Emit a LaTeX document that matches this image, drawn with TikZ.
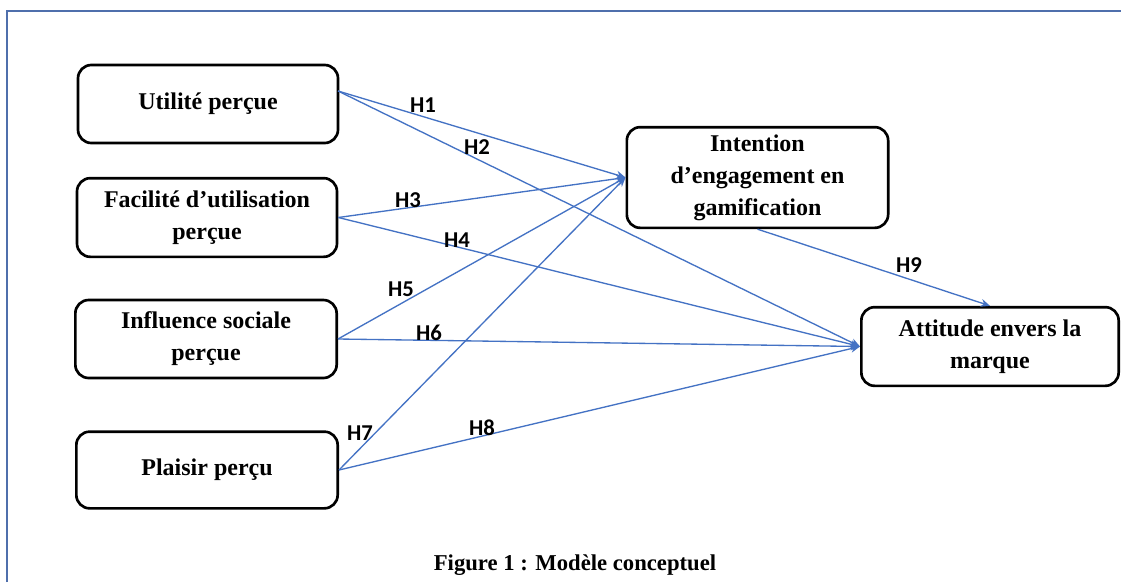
\documentclass[tikz,border=0pt]{standalone}
\usepackage{fontspec}
\setmainfont{Liberation Serif}
\newfontfamily\hfont{Carlito}
\usetikzlibrary{arrows.meta}
\definecolor{arrowblue}{RGB}{68,114,196}
\definecolor{frameblue}{RGB}{79,111,172}
\begin{document}
\begin{tikzpicture}[x=0.75pt,y=-0.75pt,
  box/.style={draw=black,line width=2pt,rounded corners=10pt,align=center,inner sep=0pt,
    font=\fontsize{18pt}{24pt}\selectfont\bfseries},
  link/.style={draw=arrowblue,line width=1pt,-{Stealth[length=7pt,width=6pt]}},
  hlab/.style={font=\hfont\fontsize{17pt}{19pt}\selectfont\bfseries,inner sep=0pt}]
\useasboundingbox (0,0) rectangle (1121,582);
\fill[white] (0,0) rectangle (1121,582);
% frame
\draw[frameblue,line width=1.4pt] (7,582) -- (7,11) -- (1121,11);
% nodes
\node[box,minimum width=195pt,minimum height=58.5pt] (u) at (208,104) {Utilité perçue};
\node[box,minimum width=195pt,minimum height=59pt] (f) at (207,217.5) {Facilité d’utilisation\\perçue};
\node[box,minimum width=196pt,minimum height=58.5pt] (s) at (206,339) {Influence sociale\\perçue};
\node[box,minimum width=196pt,minimum height=57.5pt] (p) at (207,470) {Plaisir perçu};
\node[box,minimum width=196pt,minimum height=75.5pt] (i) at (757.5,177.5) {Intention\\d’engagement en\\gamification};
\node[box,minimum width=193pt,minimum height=59pt] (a) at (990,346.5) {Attitude envers la\\marque};
\coordinate (us) at (338,91);
% connectors
\draw[link] (us) -- (i.west);
\draw[link] (us) -- (a.west);
\draw[link] (f.east) -- (i.west);
\draw[link] (f.east) -- (a.west);
\draw[link] (s.east) -- (i.west);
\draw[link] (s.east) -- (a.west);
\draw[link] (p.east) -- (i.west);
\draw[link] (p.east) -- (a.west);
\draw[link] (i.south) -- (a.north);
% labels
\node[hlab] (h1) at (423,105) {H1};
\node[hlab] (h2) at (477,147) {H2};
\node[hlab] (h3) at (408,200) {H3};
\node[hlab] (h4) at (457,240) {H4};
\node[hlab] (h5) at (401,289) {H5};
\node[hlab] (h6) at (429,333) {H6};
\node[hlab] (h7) at (360,433) {H7};
\node[hlab] (h8) at (482,428) {H8};
\node[hlab] (h9) at (909,265) {H9};
% caption
\node[font=\fontsize{17pt}{20pt}\selectfont\bfseries,inner sep=0pt] (cap) at (575,565) {Figure 1 : Modèle conceptuel};
\end{tikzpicture}
\end{document}
